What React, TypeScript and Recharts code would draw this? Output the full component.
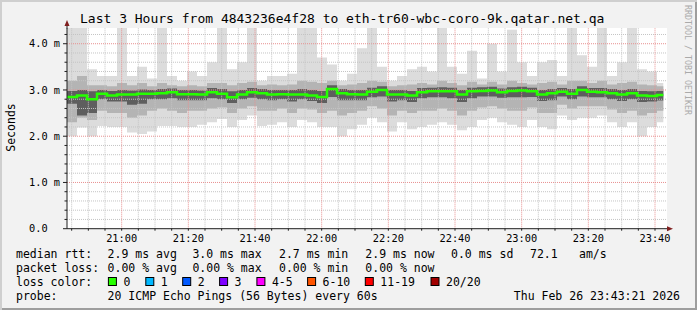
import React from "react";
import {
  Area,
  CartesianGrid,
  ComposedChart,
  Line,
  ReferenceLine,
  XAxis,
  YAxis,
} from "recharts";

// time axis in minutes after midnight, 3 minute columns
const START = 1243.6;
const END = 1423.6;
const STEP = 3;
const DATA_END = 1422.5;
const Y_TOP = 4.34;

// ms values, one per 3 minute column
const median = [
  2.85, 2.88, 2.8, 2.92, 2.88, 2.9, 2.9, 2.92, 2.92, 2.93,
  2.95, 2.91, 2.91, 2.9, 2.95, 2.92, 2.84, 2.9, 2.95, 2.93,
  2.9, 2.91, 2.9, 2.9, 2.88, 2.85, 3.02, 2.93, 2.91, 2.9,
  2.96, 3.0, 2.9, 2.9, 2.88, 2.95, 2.97, 2.97, 2.97, 2.9,
  2.97, 2.98, 2.99, 2.95, 2.98, 2.99, 2.97, 2.9, 2.93, 2.96,
  2.92, 3.0, 2.96, 2.95, 2.93, 2.9, 2.93, 2.88, 2.87, 2.89,
];
const pingMin = [
  2.0, 2.19, 2.0, 2.22, 2.2, 2.2, 2.08, 2.05, 2.1, 2.22,
  2.22, 2.2, 2.2, 2.25, 2.3, 2.37, 2.2, 2.35, 2.45, 2.22,
  2.25, 2.3, 2.2, 2.35, 2.3, 2.2, 2.2, 2.0, 2.15, 2.25,
  2.4, 2.3, 2.1, 2.3, 2.15, 2.2, 2.25, 2.3, 2.25, 2.13,
  2.2, 2.35, 2.4, 2.3, 2.25, 2.2, 2.35, 2.2, 2.15, 2.45,
  2.35, 2.4, 2.4, 2.45, 2.3, 2.2, 2.3, 2.0, 2.2, 2.3,
];
const pingMax = [
  4.34, 4.34, 3.45, 3.3, 3.3, 4.34, 3.3, 3.5, 3.25, 4.34,
  3.3, 3.2, 3.4, 3.3, 3.6, 4.34, 3.45, 3.6, 4.34, 3.2,
  3.3, 3.3, 3.35, 4.34, 4.34, 3.7, 3.55, 3.2, 3.35, 3.9,
  4.34, 3.5, 3.2, 3.3, 3.45, 3.5, 3.4, 4.34, 3.5, 3.35,
  3.85, 3.25, 4.0, 3.4, 4.3, 3.6, 3.3, 3.6, 3.65, 3.3,
  4.34, 3.75, 3.5, 4.34, 3.3, 3.6, 4.34, 3.45, 3.4, 3.15,
];
const p10 = [
  2.3, 2.4, 2.35, 2.55, 2.5, 2.5, 2.4, 2.45, 2.55, 2.6,
  2.55, 2.5, 2.55, 2.55, 2.6, 2.62, 2.5, 2.6, 2.65, 2.55,
  2.55, 2.6, 2.5, 2.6, 2.58, 2.5, 2.55, 2.45, 2.5, 2.55,
  2.65, 2.6, 2.45, 2.55, 2.5, 2.55, 2.55, 2.6, 2.55, 2.45,
  2.55, 2.62, 2.65, 2.6, 2.55, 2.55, 2.62, 2.5, 2.5, 2.68,
  2.6, 2.65, 2.65, 2.65, 2.58, 2.5, 2.55, 2.45, 2.5, 2.55,
];
const p90 = [
  3.2, 3.3, 3.1, 3.1, 3.08, 3.15, 3.1, 3.15, 3.08, 3.15,
  3.1, 3.08, 3.1, 3.08, 3.15, 3.15, 3.1, 3.15, 3.18, 3.1,
  3.12, 3.1, 3.12, 3.2, 3.18, 3.15, 3.2, 3.1, 3.12, 3.15,
  3.2, 3.18, 3.08, 3.1, 3.12, 3.15, 3.12, 3.2, 3.15, 3.1,
  3.18, 3.12, 3.18, 3.12, 3.2, 3.15, 3.12, 3.15, 3.18, 3.12,
  3.2, 3.2, 3.15, 3.2, 3.12, 3.15, 3.18, 3.12, 3.1, 3.08,
];
const p25 = [
  2.7, 2.45, 2.5, 2.8, 2.75, 2.75, 2.68, 2.7, 2.8, 2.8,
  2.82, 2.78, 2.78, 2.78, 2.82, 2.8, 2.72, 2.8, 2.83, 2.8,
  2.78, 2.8, 2.75, 2.8, 2.76, 2.72, 2.85, 2.78, 2.78, 2.78,
  2.84, 2.86, 2.75, 2.78, 2.74, 2.82, 2.84, 2.84, 2.82, 2.74,
  2.82, 2.86, 2.86, 2.83, 2.84, 2.84, 2.85, 2.76, 2.78, 2.86,
  2.8, 2.86, 2.84, 2.84, 2.8, 2.76, 2.8, 2.74, 2.75, 2.77,
];
const p75 = [
  2.98, 3.0, 2.97, 3.0, 2.98, 3.0, 2.99, 3.01, 3.0, 3.02,
  3.03, 3.0, 3.0, 2.99, 3.04, 3.02, 2.97, 3.0, 3.04, 3.02,
  3.0, 3.0, 3.0, 3.02, 3.0, 2.98, 3.1, 3.02, 3.0, 3.0,
  3.05, 3.08, 3.0, 3.0, 2.98, 3.04, 3.05, 3.06, 3.05, 3.0,
  3.05, 3.06, 3.07, 3.03, 3.06, 3.07, 3.05, 3.0, 3.02, 3.04,
  3.02, 3.08, 3.04, 3.04, 3.02, 3.0, 3.02, 2.98, 2.97, 2.98,
];

const TITLE = "Last 3 Hours from 4843236e4f28 to eth-tr60-wbc-coro-9k.qatar.net.qa";
const rttItems = ["2.9 ms avg", "3.0 ms max", "2.7 ms min", "2.9 ms now", "0.0 ms sd", "72.1", "am/s"];
const lossItems = ["0.00 % avg", "0.00 % max", "0.00 % min", "0.00 % now"];
const lossLabels = ["0", "1", "2", "3", "4-5", "6-10", "11-19", "20/20"];
const lossColors = ["#26ff00", "#00b8ff", "#0059ff", "#7e00ff", "#ff00ff", "#ff5500", "#ff0000", "#a10000"];
const PROBE = "20 ICMP Echo Pings (56 Bytes) every 60s";
const STAMP = "Thu Feb 26 23:43:21 2026";

// layout
const MONO = "'DejaVu Sans Mono', monospace";
const rttX = [107.6, 192.4, 279, 365.3, 451, 530, 579];
const lossX = [107.6, 192.4, 279, 365.3];
const boxX = [108.4, 145.8, 182.7, 219.6, 256.9, 307.6, 365.3, 431];
const ROW_Y = [258, 272, 286, 300];

const rows = median.map((m, i) => ({
  t: START + i * STEP,
  light: [pingMin[i], pingMax[i]],
  mid: [p10[i], p90[i]],
  dark: [p25[i], p75[i]],
  median: m,
}));
rows.push({ ...rows[rows.length - 1], t: DATA_END });

const xTicks: number[] = [];
for (let t = 1245; t <= 1420; t += 5) xTicks.push(t);
const yTicks: number[] = [];
for (let k = 0; k <= 21; k++) yTicks.push(Math.round(k * 2) / 10);
const isMajorX = (t: number) => t % 20 === 0;
const isMajorY = (v: number) => Math.abs(v - Math.round(v)) < 1e-6;

const fmtTime = (t: number) => {
  const h = Math.floor(t / 60);
  const m = t % 60;
  return `${h}:${m < 10 ? "0" : ""}${m}`;
};

function XTick(props: any) {
  const { x, y, payload } = props;
  const v = payload.value as number;
  return (
    <g>
      <line x1={x} x2={x} y1={y} y2={y + 2} stroke="#1f1f1f" strokeWidth={1} />
      {isMajorX(v) && (
        <text x={x} y={y + 13} textAnchor="middle" fontFamily={MONO} fontSize={10.3} fill="#000">
          {fmtTime(v)}
        </text>
      )}
    </g>
  );
}

function YTick(props: any) {
  const { y, payload } = props;
  const v = payload.value as number;
  const major = isMajorY(v);
  return (
    <g>
      <line x1={major ? 63 : 64.5} x2={67} y1={y} y2={y} stroke="#1f1f1f" strokeWidth={1} />
      {major && (
        <text x={29} y={y + 3.6} fontFamily={MONO} fontSize={10.3} fill="#000">
          {v === 0 ? "0.0" : `${v.toFixed(1)} m`}
        </text>
      )}
    </g>
  );
}

export default function App() {
  return (
    <div
      style={{
        position: "absolute",
        left: 0,
        top: 0,
        width: 697,
        height: 310,
        background: "#f2f2f2",
        boxShadow: "inset 2px 2px 0 #cfcfcf, inset -2px -2px 0 #9e9e9e",
      }}
    >
      <ComposedChart
        width={697}
        height={310}
        data={rows}
        margin={{ top: 28, right: 30, bottom: 61.3, left: 0 }}
      >
        <CartesianGrid horizontal={false} vertical={false} fill="#ffffff" fillOpacity={1} />
        <XAxis
          dataKey="t"
          type="number"
          domain={[START, END]}
          ticks={xTicks}
          interval={0}
          height={20}
          tickSize={0}
          tickMargin={0}
          tickLine={false}
          tick={(p: any) => <XTick {...p} />}
          axisLine={{ stroke: "#1f1f1f" }}
          allowDataOverflow
        />
        <YAxis
          type="number"
          domain={[0, Y_TOP]}
          ticks={yTicks}
          interval={0}
          width={67}
          tickSize={0}
          tickMargin={0}
          tickLine={false}
          tick={(p: any) => <YTick {...p} />}
          axisLine={{ stroke: "#1f1f1f" }}
          allowDataOverflow
        />
        <Area dataKey="light" type="stepAfter" fill="#dcdcdc" fillOpacity={1} stroke="none" isAnimationActive={false} />
        <Area dataKey="mid" type="stepAfter" fill="#b4b4b4" fillOpacity={1} stroke="none" isAnimationActive={false} />
        <Area dataKey="dark" type="stepAfter" fill="#5e5e5e" fillOpacity={1} stroke="none" isAnimationActive={false} />
        {yTicks
          .filter((v) => v > 0)
          .map((v) => (
            <ReferenceLine
              key={`y${v}`}
              y={v}
              stroke={isMajorY(v) ? "#e89090" : "#c4c4c4"}
              strokeDasharray="1 1"
              strokeWidth={1}
            />
          ))}
        {xTicks.map((t) => (
          <ReferenceLine
            key={`x${t}`}
            x={t}
            stroke={isMajorX(t) ? "#e89090" : "#c4c4c4"}
            strokeDasharray="1 1"
            strokeWidth={1}
          />
        ))}
        <Line
          dataKey="median"
          type="stepAfter"
          stroke="#26ff00"
          strokeWidth={2.5}
          dot={false}
          activeDot={false}
          isAnimationActive={false}
        />
      </ComposedChart>
      <svg
        width={697}
        height={310}
        style={{ position: "absolute", left: 0, top: 0, pointerEvents: "none" }}
        fontFamily={MONO}
      >
        <text x={80} y={23} fontSize={13} fill="#000">
          {TITLE}
        </text>
        <line x1={67} x2={67} y1={24} y2={28.5} stroke="#1f1f1f" />
        <polygon points="67,20 64.5,26 69.5,26" fill="#801f1f" />
        <line x1={667} x2={670} y1={228.7} y2={228.7} stroke="#1f1f1f" />
        <polygon points="673,228.7 667,226.2 667,231.2" fill="#801f1f" />
        <text
          x={11}
          y={127.5}
          fontSize={11.5}
          textAnchor="middle"
          dominantBaseline="central"
          transform="rotate(-90 11 127.5)"
          fill="#000"
        >
          Seconds
        </text>
        <text
          x={688}
          y={60}
          fontSize={8.3}
          textAnchor="middle"
          dominantBaseline="central"
          transform="rotate(90 688 60)"
          fill="#aaaaaa"
        >
          RRDTOOL / TOBI OETIKER
        </text>

        <g fontSize={11.5} fill="#000">
          <text x={16} y={ROW_Y[0]}>median rtt:</text>
          {rttItems.map((s, i) => (
            <text key={s} x={rttX[i]} y={ROW_Y[0]}>
              {s}
            </text>
          ))}
          <text x={16} y={ROW_Y[1]}>packet loss:</text>
          {lossItems.map((s, i) => (
            <text key={s} x={lossX[i]} y={ROW_Y[1]}>
              {s}
            </text>
          ))}
          <text x={16} y={ROW_Y[2]}>loss color:</text>
          {lossLabels.map((s, i) => (
            <g key={s}>
              <rect x={boxX[i]} y={ROW_Y[2] - 8.5} width={8} height={8} fill={lossColors[i]} stroke="#000" strokeWidth={1} />
              <text x={boxX[i] + 15} y={ROW_Y[2]}>
                {s}
              </text>
            </g>
          ))}
          <text x={16} y={ROW_Y[3]}>probe:</text>
          <text x={107.6} y={ROW_Y[3]}>{PROBE}</text>
          <text x={680} y={ROW_Y[3]} textAnchor="end">
            {STAMP}
          </text>
        </g>
      </svg>
    </div>
  );
}
